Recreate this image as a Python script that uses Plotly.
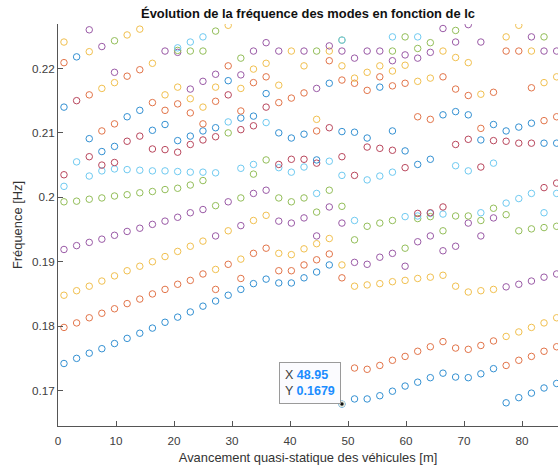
import plotly.graph_objects as go

# positions de calcul (m) -- 40 pas d'avancement
x_pos = [1.03, 3.21, 5.39, 7.56, 9.74, 11.92, 14.10, 16.28, 18.45, 20.63,
         22.81, 24.99, 27.17, 29.34, 31.52, 33.70, 35.88, 38.06, 40.23, 42.41,
         44.59, 46.77, 48.95, 51.12, 53.30, 55.48, 57.66, 59.84, 62.01, 64.19,
         66.37, 68.55, 70.73, 72.90, 75.08, 77.26, 79.44, 81.62, 83.79, 85.97]

N = None
# fréquences triées (Hz), une liste par rang de mode
mode_01 = [0.1742, 0.1750, 0.1758, 0.1765, 0.1773, 0.1781, 0.1789, 0.1797, 0.1806, 0.1814,
           0.1822, 0.1831, 0.1839, 0.1848, 0.1857, 0.1866, 0.1873, 0.1867, 0.1867, 0.1875,
           0.1884, 0.1895, 0.1679, 0.1687, 0.1687, 0.1692, 0.1699, 0.1707, 0.1713, 0.1720,
           0.1727, 0.1721, 0.1720, 0.1726, 0.1734, 0.1681, 0.1689, 0.1696, 0.1704, 0.1711]
mode_02 = [0.1798, 0.1805, 0.1813, 0.1820, 0.1827, 0.1835, 0.1842, 0.1850, 0.1857, 0.1865,
           0.1871, 0.1881, 0.1857, 0.1896, 0.1874, 0.1913, 0.1921, 0.1886, 0.1886, 0.1895,
           0.1903, 0.1912, 0.1875, 0.1735, 0.1733, 0.1739, 0.1747, 0.1753, 0.1761, 0.1768,
           0.1776, 0.1766, 0.1764, 0.1770, 0.1777, 0.1739, 0.1747, 0.1753, 0.1761, 0.1768]
mode_03 = [0.1848, 0.1855, 0.1862, 0.1870, 0.1878, 0.1886, 0.1893, 0.1900, 0.1908, 0.1916,
           0.1924, 0.1932, 0.1888, 0.1948, 0.1904, 0.1964, 0.1972, 0.1913, 0.1911, 0.1920,
           0.1928, 0.1936, 0.1895, 0.1862, 0.1864, 0.1866, 0.1869, 0.1871, 0.1874, 0.1876,
           0.1879, 0.1862, 0.1853, 0.1855, 0.1857, 0.1784, 0.1791, 0.1798, 0.1805, 0.1813]
mode_04 = [0.1919, 0.1925, 0.1930, 0.1935, 0.1941, 0.1947, 0.1952, 0.1958, 0.1963, 0.1969,
           0.1976, 0.1981, 0.1940, 0.1993, 0.1956, 0.2006, 0.2011, 0.1963, 0.1960, 0.1968,
           0.1940, 0.1985, 0.1960, 0.1899, 0.1896, 0.1907, 0.1913, 0.1893, 0.1931, 0.1940,
           0.1917, 0.1924, 0.1960, 0.1940, 0.1968, 0.1861, 0.1865, 0.1870, 0.1876, 0.1881]
mode_05 = [0.1993, 0.1994, 0.1997, 0.1999, 0.2002, 0.2004, 0.2007, 0.2009, 0.2012, 0.2014,
           0.2019, 0.2026, 0.1987, 0.2100, 0.1999, 0.2036, 0.2058, 0.1999, 0.1993, 0.1999,
           0.1977, 0.2011, 0.1986, 0.1934, 0.1955, 0.1960, 0.1964, 0.1921, 0.1967, 0.1970,
           0.1948, 0.1971, 0.1971, 0.1964, 0.1983, 0.1973, 0.1948, 0.1951, 0.1953, 0.1955]
mode_06 = [0.2017, 0.2055, 0.2033, 0.2041, 0.2044, 0.2043, 0.2042, 0.2041, 0.2041, 0.2040,
           0.2039, 0.2039, 0.2038, 0.2117, 0.2045, 0.2051, 0.2116, 0.2046, 0.2039, 0.2047,
           0.2006, 0.2056, 0.2034, 0.1964, 0.2027, 0.2033, 0.2039, 0.1970, 0.1971, 0.1975,
           0.1974, 0.2049, 0.2041, 0.1976, 0.2053, 0.1991, 0.1998, 0.2006, 0.1976, 0.2006]
mode_07 = [0.2035, 0.2150, 0.2063, 0.2050, 0.2054, 0.2087, 0.2095, 0.2075, 0.2074, 0.2070,
           0.2082, 0.2089, 0.2094, 0.2159, 0.2105, 0.2111, 0.2140, 0.2051, 0.2059, 0.2059,
           0.2053, 0.2108, 0.2063, 0.2034, 0.2078, 0.2076, 0.2073, 0.2046, 0.1975, 0.1976,
           0.1985, 0.2082, 0.2090, 0.2047, 0.2088, 0.2087, 0.2084, 0.2084, 0.2015, 0.2022]
mode_08 = [0.2140, 0.2218, 0.2091, 0.2071, 0.2079, 0.2125, 0.2135, 0.2104, 0.2113, 0.2088,
           0.2095, 0.2103, 0.2108, 0.2181, 0.2123, 0.2126, 0.2161, 0.2100, 0.2092, 0.2098,
           0.2058, 0.2177, 0.2102, 0.2101, 0.2092, 0.2171, 0.2103, 0.2072, 0.2051, 0.2059,
           0.2128, 0.2133, 0.2128, 0.2089, 0.2113, 0.2103, 0.2109, 0.2115, 0.2084, 0.2084]
mode_09 = [0.2209, N, 0.2159, 0.2103, 0.2114, 0.2188, 0.2198, 0.2147, 0.2135, 0.2145,
           0.2131, 0.2114, 0.2149, 0.2204, 0.2134, 0.2178, 0.2187, 0.2147, 0.2154, 0.2162,
           0.2103, 0.2212, 0.2182, 0.2177, 0.2166, 0.2187, 0.2173, 0.2177, 0.2125, 0.2121,
           0.2187, 0.2168, 0.2158, 0.2107, 0.2163, 0.2227, 0.2227, 0.2170, 0.2119, 0.2125]
mode_10 = [0.2241, N, 0.2226, 0.2169, 0.2178, 0.2252, 0.2261, 0.2208, 0.2159, 0.2171,
           0.2153, 0.2140, 0.2171, 0.2267, 0.2169, 0.2199, 0.2208, 0.2174, 0.2227, 0.2204,
           0.2121, 0.2227, 0.2204, 0.2185, 0.2194, 0.2204, 0.2196, 0.2205, 0.2180, 0.2185,
           0.2227, 0.2217, 0.2209, 0.2160, N, 0.2249, 0.2267, 0.2227, 0.2178, 0.2187]
mode_11 = [N, N, 0.2260, 0.2234, 0.2194, N, N, N, 0.2227, 0.2225,
           0.2168, 0.2180, 0.2191, N, 0.2190, 0.2227, 0.2240, 0.2227, N, 0.2227,
           0.2169, 0.2235, 0.2227, 0.2216, 0.2227, 0.2227, 0.2212, 0.2221, 0.2216, 0.2225,
           0.2262, 0.2241, 0.2268, 0.2241, N, N, N, 0.2249, 0.2227, 0.2227]
mode_12 = [N, N, N, N, 0.2243, N, N, N, N, 0.2228,
           0.2227, 0.2227, 0.2258, N, 0.2216, N, N, N, N, N,
           0.2227, N, 0.2244, N, N, N, 0.2227, 0.2249, 0.2231, 0.2240,
           N, 0.2259, N, N, N, N, N, N, 0.2249, N]
mode_13 = [N, N, N, N, N, N, N, N, N, 0.2232,
           0.2241, 0.2249, N, N, N, N, N, N, N, N,
           N, N, 0.2244, N, N, N, 0.2249, N, 0.2249, N,
           N, N, N, N, N, N, N, N, N, N]

modes = [mode_01, mode_02, mode_03, mode_04, mode_05, mode_06, mode_07,
         mode_08, mode_09, mode_10, mode_11, mode_12, mode_13]

# couleurs par défaut de MATLAB (cycle de 7), un peu éclaircies comme à l'écran
couleurs = ['#3390D2', '#E27449', '#F1C04F', '#9A5AA6', '#93BE59', '#6FCAF1', '#B9475D']

# point sélectionné (datatip)
tip_x = 48.95
tip_y = 0.1679

police = 'Liberation Sans, Arial, sans-serif'

fig = go.Figure()
for i, m in enumerate(modes):
    fig.add_trace(go.Scatter(x=x_pos, y=m, mode='markers', showlegend=False,
                             marker=dict(symbol='circle-open', size=6.5,
                                         color=couleurs[i % 7], line=dict(width=1))))

# marqueur du datatip
fig.add_trace(go.Scatter(x=[tip_x], y=[tip_y], mode='markers', showlegend=False,
                         marker=dict(symbol='circle', size=5, color='#111111',
                                     line=dict(color='#dfe6dc', width=1.5))))

fig.add_annotation(x=tip_x, y=tip_y, xref='x', yref='y',
                   text=("X <b><span style='color:#1a8cff'>48.95</span></b><br>"
                         "Y <b><span style='color:#1a8cff'>0.1679</span></b>"),
                   showarrow=False, xanchor='right', yanchor='bottom', align='left',
                   xshift=-1, yshift=0,
                   font=dict(family=police, size=12.5, color='#404040'),
                   bgcolor='#fbfbfe', bordercolor='#9a9a9a', borderwidth=1, borderpad=5)

axe = dict(showgrid=False, zeroline=False, showline=True, linecolor='#555555', linewidth=1,
           ticks='inside', ticklen=5, tickcolor='#555555', mirror=False,
           tickfont=dict(family=police, size=11.7, color='#404040'))

fig.update_xaxes(range=[0, 86.2], tickvals=[0, 10, 20, 30, 40, 50, 60, 70, 80],
                 ticklabelstandoff=4,
                 title=dict(text='Avancement quasi-statique des véhicules [m]', standoff=6,
                            font=dict(family=police, size=12.9, color='#333333')),
                 **axe)
fig.update_yaxes(range=[0.1645, 0.2269], tickvals=[0.17, 0.18, 0.19, 0.20, 0.21, 0.22],
                 ticktext=['0.17', '0.18', '0.19', '0.2', '0.21', '0.22'],
                 title=dict(text='Fréquence [Hz]', standoff=6,
                            font=dict(family=police, size=12.9, color='#333333')),
                 **axe)

fig.update_layout(
    width=558, height=468,
    margin=dict(l=58, r=0, t=24, b=42),
    paper_bgcolor='white', plot_bgcolor='white',
    title=dict(text='<b>Évolution de la fréquence des modes en fonction de lc</b>',
               x=0.5, xref='paper', y=1 - 13 / 468, yanchor='middle',
               font=dict(family=police, size=12.9, color='#111111')),
)

# la page ne doit pas avoir de marge autour du graphique
fig.write_html("out.html", config={'displayModeBar': False},
               post_script="document.body.style.margin='0';")
